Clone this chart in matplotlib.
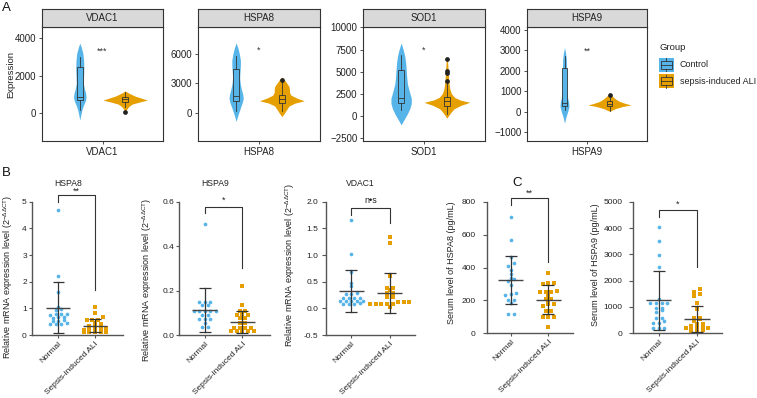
import numpy as np
import matplotlib.pyplot as plt
import matplotlib.transforms as mtransforms
from matplotlib.patches import Rectangle

plt.rcParams['font.family'] = ['Liberation Sans', 'DejaVu Sans']
plt.rcParams['mathtext.fontset'] = 'custom'
plt.rcParams['mathtext.rm'] = 'Liberation Sans'
plt.rcParams['mathtext.it'] = 'Liberation Sans:italic'
plt.rcParams['mathtext.bf'] = 'Liberation Sans:bold'

W, H = 757, 398
BLUE = '#56B4E9'
ORANGE = '#E69F00'
DARK = '#333333'

# ---------------- A: violins ----------------
genes_a = ['VDAC1', 'HSPA8', 'SOD1', 'HSPA9']
stars_a = ['***', '*', '*', '**']
star_y_a = [3300, 6400, 7440, 2970]
yticks_a = [[0, 2000, 4000],
            [0, 3000, 6000],
            [-2500, 0, 2500, 5000, 7500, 10000],
            [-1000, 0, 1000, 2000, 3000, 4000]]
ylims_a = [(-1490, 4590), (-2870, 8760), (-2840, 10050), (-1440, 4150)]

# violin outlines: value levels and half widths
ctrl_vy = [[3730, 3500, 3200, 2800, 2400, 2000, 1600, 1300, 1050, 850, 650, 400, 150, -100, -370],
           [7140, 6600, 6000, 5400, 4800, 4200, 3600, 3000, 2400, 1900, 1500, 1100, 600, 0, -500, -890],
           [8250, 7500, 6800, 6000, 5200, 4400, 3600, 2800, 2000, 1400, 800, 200, -400, -1010],
           [3140, 2900, 2600, 2200, 1800, 1400, 1000, 700, 450, 250, 0, -250, -560]]
ctrl_vw = [[0, 0.015, 0.03, 0.038, 0.04, 0.038, 0.035, 0.045, 0.058, 0.062, 0.055, 0.035, 0.02, 0.01, 0],
           [0, 0.018, 0.032, 0.042, 0.042, 0.038, 0.035, 0.04, 0.052, 0.065, 0.07, 0.062, 0.045, 0.025, 0.01, 0],
           [0, 0.02, 0.035, 0.045, 0.05, 0.055, 0.062, 0.08, 0.1, 0.1, 0.085, 0.06, 0.03, 0],
           [0, 0.01, 0.018, 0.02, 0.02, 0.02, 0.022, 0.03, 0.042, 0.045, 0.032, 0.015, 0]]
sep_vy = [[1180, 1050, 900, 780, 690, 600, 480, 350, 200, 60],
          [3660, 3300, 3000, 2700, 2400, 2100, 1800, 1500, 1230, 1000, 700, 300, -100, -380],
          [6570, 6000, 5200, 4400, 3600, 3000, 2500, 2100, 1800, 1530, 1200, 800, 400, 0, -260],
          [870, 750, 620, 500, 400, 330, 250, 150, 60, 20]]
sep_vw = [[0, 0.04, 0.1, 0.17, 0.22, 0.15, 0.07, 0.035, 0.015, 0],
          [0, 0.03, 0.05, 0.07, 0.075, 0.075, 0.09, 0.15, 0.22, 0.13, 0.07, 0.045, 0.02, 0],
          [0, 0.008, 0.012, 0.016, 0.022, 0.03, 0.045, 0.075, 0.13, 0.225, 0.14, 0.07, 0.04, 0.015, 0],
          [0, 0.03, 0.06, 0.1, 0.16, 0.215, 0.13, 0.06, 0.02, 0]]

# box stats: whisker low, q1, median, q3, whisker high
ctrl_box = [(160, 690, 870, 2470, 3000), (140, 1160, 1670, 4500, 5840),
            (710, 1460, 1980, 5190, 6940), (100, 300, 430, 2120, 2730)]
sep_box = [(330, 600, 750, 840, 1130), (140, 990, 1430, 1840, 3310),
           (220, 1150, 1710, 2160, 3890), (50, 260, 390, 510, 750)]
sep_fliers = [[70], [3320], [6380, 5070, 4890, 3960], [800]]

# ---------------- B / C: dot plots ----------------
bc_titles = ['HSPA8', 'HSPA9', 'VDAC1', '', '']
groups_bc = ['Normal', 'Sepsis-induced ALI']
normal_vals = [
    [4.7, 2.22, 1.6, 1.06, 0.98, 0.95, 0.8, 0.78, 0.78, 0.76, 0.66, 0.66, 0.64, 0.57, 0.54, 0.54, 0.45, 0.42, 0.42, 0.4],
    [0.5, 0.15, 0.15, 0.15, 0.135, 0.135, 0.11, 0.11, 0.11, 0.11, 0.11, 0.09, 0.09, 0.07, 0.07, 0.07, 0.055, 0.035, 0.035],
    [1.66, 1.01, 0.675, 0.47, 0.42, 0.28, 0.27, 0.27, 0.2, 0.2, 0.2, 0.2, 0.14, 0.14, 0.14, 0.14, 0.14, 0.1, 0.09, 0.09, 0.09],
    [709, 567, 466, 425, 411, 385, 360, 334, 330, 318, 294, 243, 237, 233, 203, 203, 182, 115, 115],
    [4025, 3519, 2975, 2532, 1304, 1160, 1160, 1160, 1160, 980, 980, 886, 797, 595, 595, 468, 380, 380, 215, 215, 215]]
sepsis_vals = [
    [1.04, 0.81, 0.66, 0.58, 0.58, 0.57, 0.45, 0.41, 0.35, 0.33, 0.27, 0.26, 0.21, 0.2, 0.2, 0.12, 0.11, 0.11, 0.11, 0.1],
    [0.22, 0.135, 0.11, 0.11, 0.09, 0.09, 0.09, 0.075, 0.075, 0.055, 0.055, 0.033, 0.033, 0.033, 0.033, 0.018, 0.018, 0.018, 0.018, 0.018],
    [1.33, 1.22, 0.6, 0.39, 0.39, 0.34, 0.29, 0.29, 0.22, 0.22, 0.125, 0.125, 0.125, 0.08, 0.08, 0.08, 0.08, 0.08, 0.02],
    [365, 304, 304, 298, 259, 250, 250, 250, 233, 209, 209, 192, 176, 176, 168, 136, 136, 100, 100, 100, 40],
    [1671, 1582, 1494, 1418, 1139, 911, 595, 570, 545, 468, 342, 342, 291, 215, 215, 215, 190, 190, 127, 89, 38]]
mean_n = [1.03, 0.112, 0.33, 322, 1253]
sd_n = [0.95, 0.098, 0.39, 146, 1110]
mean_s = [0.35, 0.057, 0.29, 203, 532]
sd_s = [0.25, 0.05, 0.37, 88, 495]
yrange_bc = [(0, 5), (0, 0.6), (-0.5, 2), (0, 800), (0, 5000)]
yticks_bc = [[0, 1, 2, 3, 4, 5], [0.0, 0.2, 0.4, 0.6], [-0.5, 0.0, 0.5, 1.0, 1.5, 2.0],
             [0, 200, 400, 600, 800], [0, 1000, 2000, 3000, 4000, 5000]]
ytickfmt_bc = ['{:g}', '{:.1f}', '{:.1f}', '{:g}', '{:g}']
# bracket: left leg bottom, top, right leg bottom, label, label height
brackets = [(5.0, 5.25, 1.7, '**', 5.38),
            (0.548, 0.575, 0.30, '*', 0.605),
            (1.75, 1.875, 1.6, 'n\u2022s', 2.02),
            (780, 820, 435, '**', 850),
            (4430, 4681, 2530, '*', 4900)]
ylabels_bc = ['Relative mRNA expression level (2$^{-\\Delta\\Delta\\mathrm{CT}}$)'] * 3 + \
             ['Serum level of HSPA8 (pg/mL)', 'Serum level of HSPA9 (pg/mL)']

fig = plt.figure(figsize=(W / 100, H / 100), dpi=100)


def px_axes(x0, y0, x1, y1):
    return fig.add_axes([x0 / W, 1 - y1 / H, (x1 - x0) / W, (y1 - y0) / H])


ov = px_axes(0, 0, W, H)
ov.set_xlim(0, W)
ov.set_ylim(H, 0)
ov.axis('off')
ov.set_facecolor('none')

# ---- panel A ----
a_px = [(42, 163), (198, 320), (363, 485), (527, 647)]
for i, g in enumerate(genes_a):
    x0, x1 = a_px[i]
    ax = px_axes(x0, 27, x1, 141)
    ax.set_xlim(0.4, 1.6)
    ax.set_ylim(*ylims_a[i])
    for c, vy, vw, col in [(0.775, ctrl_vy[i], ctrl_vw[i], BLUE),
                           (1.225, sep_vy[i], sep_vw[i], ORANGE)]:
        vy = np.array(vy)
        vw = np.array(vw)
        ax.fill_betweenx(vy, c - vw, c + vw, color=col, lw=0, zorder=1)
    stats = []
    for b, fl in [(ctrl_box[i], []), (sep_box[i], sep_fliers[i])]:
        stats.append(dict(whislo=b[0], q1=b[1], med=b[2], q3=b[3], whishi=b[4], fliers=fl))
    bp = ax.bxp(stats, positions=[0.775, 1.225], widths=0.055, patch_artist=True,
                showcaps=False, manage_ticks=False,
                boxprops=dict(edgecolor=DARK, lw=0.6),
                medianprops=dict(color=DARK, lw=0.6),
                whiskerprops=dict(color=DARK, lw=0.6),
                flierprops=dict(marker='o', markerfacecolor='#222222',
                                markeredgecolor='#222222', markersize=2.4))
    for patch, col in zip(bp['boxes'], [BLUE, ORANGE]):
        patch.set_facecolor(col)
    ax.text(1, star_y_a[i], stars_a[i], ha='center', va='center', fontsize=6.5, color=DARK)
    ax.set_xticks([1])
    ax.set_xticklabels([g])
    ax.set_yticks(yticks_a[i])
    ax.tick_params(labelsize=7, length=2.5, width=0.6, color=DARK, labelcolor='#222222', pad=1.5)
    for s in ax.spines.values():
        s.set_color(DARK)
        s.set_linewidth(0.8)
    sax = px_axes(x0, 9, x1, 27)
    sax.set_facecolor('#d9d9d9')
    sax.set_xticks([])
    sax.set_yticks([])
    for s in sax.spines.values():
        s.set_color(DARK)
        s.set_linewidth(0.8)
    sax.text(0.5, 0.5, g, transform=sax.transAxes, ha='center', va='center', fontsize=7, color='#222222')

ov.text(11, 75, 'Expression', rotation=90, ha='center', va='center', fontsize=6.8, color='#222222')

# legend
ov.text(659, 47, 'Group', ha='left', va='center', fontsize=6.8, color='#222222')
for k, (lab, col) in enumerate([('Control', BLUE), ('sepsis-induced ALI', ORANGE)]):
    ky = 57.5 + k * 16.5
    ov.add_patch(Rectangle((659, ky), 14.5, 14, facecolor=col, edgecolor='none'))
    ov.add_patch(Rectangle((660.5, ky + 3), 11.5, 8, facecolor=col, edgecolor=DARK, lw=0.6))
    ov.plot([660.5, 672], [ky + 7, ky + 7], color=DARK, lw=0.6)
    ov.plot([666.2, 666.2], [ky + 0.5, ky + 3], color=DARK, lw=0.6)
    ov.plot([666.2, 666.2], [ky + 11, ky + 13.5], color=DARK, lw=0.6)
    ov.text(680, ky + 7, lab, ha='left', va='center', fontsize=6.5, color='#222222')

# ---- panels B and C ----
bc_px = [(31.7, 58.3, 95, 123.3), (179, 204.7, 242.3, 270), (326, 351.3, 389.7, 415),
         (486.7, 510.7, 548.3, 573.3), (633.3, 658.7, 697, 721.7)]
bc_ybot = [335, 335, 335, 333.3, 333.3]
tick_len = [2.5, 2.5, 3, 3, 3]
tick_pad = [1, 1, 2.5, 5, 5]
title_xy = [(68, 183), (215, 183), (360, 183)]
ylab_xy = [(8, 277), (147, 280), (290, 265), (451, 263), (596, 265)]
SPINE_TOP = 201.7
AX_TOP = 185


def swarm(vals, step, dx):
    vals = np.asarray(vals, dtype=float)
    order = np.argsort(vals)
    offs = np.zeros(len(vals))
    groups = []
    start = None
    for idx in order:
        if start is None or vals[idx] - start > step:
            groups.append([idx])
            start = vals[idx]
        else:
            groups[-1].append(idx)
    for grp in groups:
        n = len(grp)
        for j, gi in enumerate(grp):
            offs[gi] = (j - (n - 1) / 2) * dx
    return offs


shift = mtransforms.ScaledTranslation(0.035, -0.005, fig.dpi_scale_trans)

for i in range(5):
    xl, xn, xs, xr = bc_px[i]
    yb = bc_ybot[i]
    y0, y1 = yrange_bc[i]
    ax = px_axes(xl, AX_TOP, xr, yb)
    ax.set_facecolor('none')
    unit = xs - xn
    ax.set_xlim((xl - xn) / unit, (xr - xn) / unit)
    ax.set_ylim(y0, y1 + (SPINE_TOP - AX_TOP) / (yb - SPINE_TOP) * (y1 - y0))
    ax.spines[['top', 'right']].set_visible(False)
    ax.spines['left'].set_bounds(y0, y1)
    for s in ['left', 'bottom']:
        ax.spines[s].set_color('#555555')
        ax.spines[s].set_linewidth(1.0)
    step = 2.6 * (y1 - y0) / (yb - SPINE_TOP)
    dx = 5.6 / unit
    for k, (vals, col, mk, sz) in enumerate([(normal_vals[i], BLUE, 'o', 7),
                                             (sepsis_vals[i], ORANGE, 's', 7)]):
        offs = swarm(vals, step, dx)
        ax.scatter(k + offs, vals, s=sz, marker=mk, color=col, lw=0, zorder=2, clip_on=False)
    for k, (m, sd) in enumerate([(mean_n[i], sd_n[i]), (mean_s[i], sd_s[i])]):
        ax.plot([k - 0.33, k + 0.33], [m, m], color='#444444', lw=1.0, zorder=3, solid_capstyle='butt')
        ax.plot([k, k], [m - sd, m + sd], color='#333333', lw=0.9, zorder=3)
        for e in (m - sd, m + sd):
            ax.plot([k - 0.155, k + 0.155], [e, e], color='#333333', lw=0.9, zorder=3, solid_capstyle='butt')
    lb, tp, rb, lab, ly = brackets[i]
    ax.plot([0, 0, 1, 1], [lb, tp, tp, rb], color='#333333', lw=0.8, clip_on=False)
    ax.text(0.5, ly, lab, ha='center', va='center', fontsize=6.5, color='#222222')
    ax.set_xticks([0, 1])
    ax.set_xticklabels(groups_bc, rotation=45, ha='right', va='top', rotation_mode='anchor')
    for t in ax.get_xticklabels():
        t.set_transform(t.get_transform() + shift)
    ax.set_yticks(yticks_bc[i])
    ax.set_yticklabels([ytickfmt_bc[i].format(t) for t in yticks_bc[i]])
    ax.tick_params(axis='y', labelsize=6, length=tick_len[i], width=0.8, color='#555555',
                   labelcolor='#222222', pad=tick_pad[i])
    ax.tick_params(axis='x', labelsize=6, length=2.5, width=0.8, color='#555555',
                   labelcolor='#222222', pad=1)
    if bc_titles[i]:
        ov.text(title_xy[i][0], title_xy[i][1], bc_titles[i], ha='center', va='center',
                fontsize=6.2, color='#222222')
    ov.text(ylab_xy[i][0], ylab_xy[i][1], ylabels_bc[i], rotation=90, ha='center', va='center',
            fontsize=6.5, color='#222222')

ov.text(2, 8, 'A', ha='left', va='center', fontsize=9.5, color='#111111')
ov.text(2, 173, 'B', ha='left', va='center', fontsize=9.5, color='#111111')
ov.text(512, 183, 'C', ha='left', va='center', fontsize=9.5, color='#111111')

fig.savefig('out.png', dpi=100)
